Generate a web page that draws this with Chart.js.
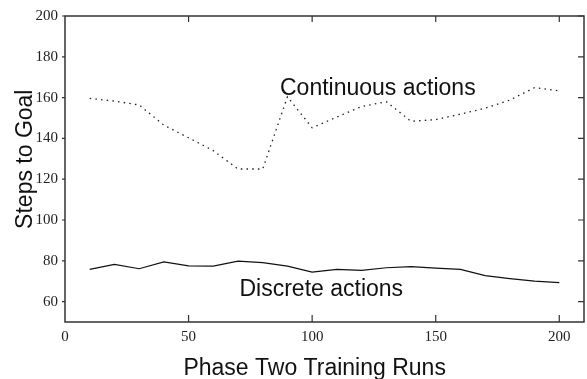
<!DOCTYPE html>
<html>
<head>
<meta charset="utf-8">
<script src="https://cdn.jsdelivr.net/npm/chart.js@4"></script>
<style>
  body { margin: 0; background: #fff; }
  canvas { display: block; }
</style>
</head>
<body>
<canvas id="stepsChart" width="587" height="379"></canvas>
<script>
// training runs (x) and average steps to goal for each method
const runs = [10, 20, 30, 40, 50, 60, 70, 80, 90, 100, 110, 120, 130, 140, 150, 160, 170, 180, 190, 200];
const continuousSteps = [159.6, 158.3, 156.4, 146.5, 140.3, 134, 125, 125, 160.4, 145.2, 150.5, 155.6, 158, 148.4, 149.2, 151.9, 154.8, 158.8, 164.9, 163.3];
const discreteSteps = [75.8, 78.2, 76.1, 79.5, 77.5, 77.4, 79.8, 79.1, 77.4, 74.5, 75.8, 75.3, 76.6, 77.1, 76.4, 75.8, 72.7, 71.3, 70, 69.3];

const xTicks = [0, 50, 100, 150, 200];
const yTicks = [60, 80, 100, 120, 140, 160, 180, 200];

const seriesLabels = ["Continuous actions", "Discrete actions"];
const xTitle = "Phase Two Training Runs";
const yTitle = "Steps to Goal";

// where the in-plot labels sit, in data units (left edge, baseline)
const labelAnchors = [
    { text: seriesLabels[0], x: 87, y: 161.5 },
    { text: seriesLabels[1], x: 70.6, y: 62.7 }
];

const sansFont = '23px "Liberation Sans", Arial, sans-serif';

// frame, inward ticks, axis titles and the series labels
const framePlugin = {
    id: 'frame',
    afterDraw(chart) {
        const ctx = chart.ctx;
        const a = chart.chartArea;
        const xs = chart.scales.x;
        const ys = chart.scales.y;
        ctx.save();
        ctx.strokeStyle = '#333';
        ctx.lineWidth = 1.5;
        ctx.strokeRect(a.left, a.top, a.right - a.left, a.bottom - a.top);

        ctx.lineWidth = 1.2;
        ctx.beginPath();
        xTicks.forEach(v => {
            const px = xs.getPixelForValue(v);
            if (v === 0) return;
            ctx.moveTo(px, a.bottom); ctx.lineTo(px, a.bottom - 7);
            ctx.moveTo(px, a.top); ctx.lineTo(px, a.top + 6);
        });
        yTicks.forEach(v => {
            const py = ys.getPixelForValue(v);
            ctx.moveTo(a.left - 3, py); ctx.lineTo(a.left, py);
            ctx.moveTo(a.right, py); ctx.lineTo(a.right - 6, py);
        });
        ctx.stroke();

        ctx.fillStyle = '#111';
        ctx.font = sansFont;
        ctx.textBaseline = 'alphabetic';
        ctx.textAlign = 'left';
        labelAnchors.forEach(l => {
            ctx.fillText(l.text, xs.getPixelForValue(l.x), ys.getPixelForValue(l.y));
        });

        ctx.textAlign = 'center';
        const w = a.right - a.left;
        const h = a.bottom - a.top;
        ctx.fillText(xTitle, a.left + w * 0.481, 375);

        ctx.translate(32, a.top + h * 0.468);
        ctx.rotate(-Math.PI / 2);
        ctx.fillText(yTitle, 0, 0);
        ctx.restore();
    }
};

const chartData = {
    labels: runs,
    datasets: [
        {
            label: seriesLabels[0],
            data: runs.map((r, i) => ({ x: r, y: continuousSteps[i] })),
            borderColor: '#222',
            borderWidth: 1.3,
            borderDash: [1.5, 4.2],
            pointRadius: 0,
            tension: 0,
            fill: false
        },
        {
            label: seriesLabels[1],
            data: runs.map((r, i) => ({ x: r, y: discreteSteps[i] })),
            borderColor: '#111',
            borderWidth: 1.2,
            pointRadius: 0,
            tension: 0,
            fill: false
        }
    ]
};

const config = {
    type: 'line',
    data: chartData,
    options: {
        responsive: false,
        animation: false,
        layout: {
            padding: { top: 13, right: 3, left: 0, bottom: 0 }
        },
        scales: {
            x: {
                type: 'linear',
                min: 0,
                max: 210,
                afterBuildTicks: function(scale) {
                    scale.ticks = xTicks.map(v => ({ value: v }));
                },
                afterFit: function(scale) {
                    scale.height = 57;
                },
                grid: { display: false, drawTicks: false },
                border: { display: false },
                ticks: {
                    padding: 6,
                    color: '#222',
                    maxRotation: 0,
                    font: { family: '"Liberation Serif", "Times New Roman", serif', size: 15 }
                }
            },
            y: {
                type: 'linear',
                min: 50,
                max: 200,
                afterBuildTicks: function(scale) {
                    scale.ticks = yTicks.map(v => ({ value: v }));
                },
                afterFit: function(scale) {
                    scale.width = 65;
                },
                grid: { display: false, drawTicks: false },
                border: { display: false },
                ticks: {
                    padding: 7,
                    color: '#222',
                    font: { family: '"Liberation Serif", "Times New Roman", serif', size: 15 }
                }
            }
        },
        plugins: {
            legend: { display: false },
            tooltip: { enabled: false }
        }
    },
    plugins: [framePlugin]
};

const myChart = new Chart(document.getElementById('stepsChart'), config);
</script>
</body>
</html>
